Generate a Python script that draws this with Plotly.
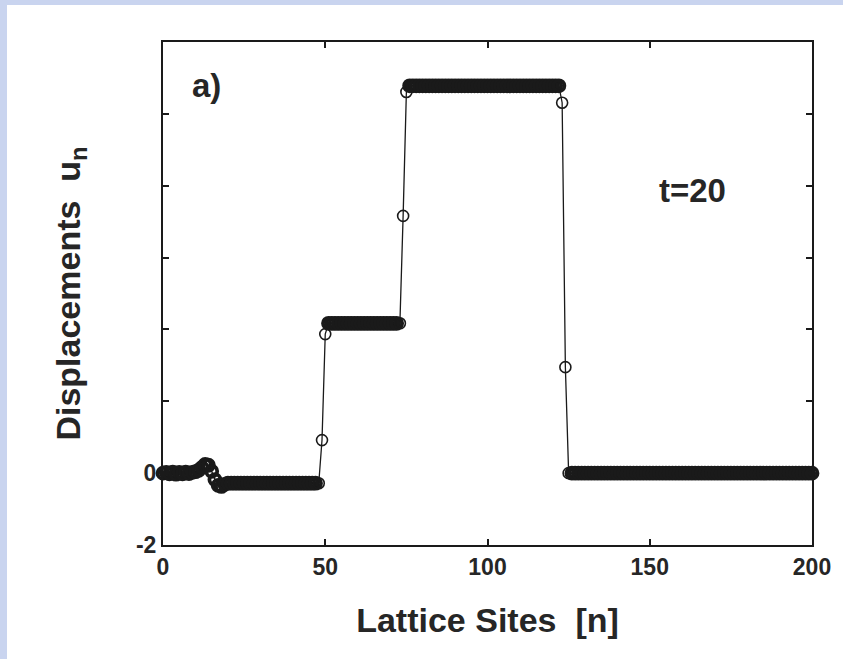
import plotly.graph_objects as go

# Lattice site index n = 0..200
sites = list(range(201))

# Displacements u_n (t = 20)
u_n = [
    0.00, 0.02, -0.02, 0.03, -0.03, 0.02, -0.02, 0.03, -0.01, 0.02,      # 0-9
    0.04, 0.08, 0.16, 0.24, 0.22, 0.05, -0.18, -0.34, -0.37, -0.31,      # 10-19
    -0.28, -0.28, -0.28, -0.28, -0.28, -0.28, -0.28, -0.28, -0.28, -0.28, # 20-29
    -0.28, -0.28, -0.28, -0.28, -0.28, -0.28, -0.28, -0.28, -0.28, -0.28, # 30-39
    -0.28, -0.28, -0.28, -0.28, -0.28, -0.28, -0.28, -0.28, -0.28, 0.92,  # 40-49
    3.87, 4.17, 4.17, 4.17, 4.17, 4.17, 4.17, 4.17, 4.17, 4.17,           # 50-59
    4.17, 4.17, 4.17, 4.17, 4.17, 4.17, 4.17, 4.17, 4.17, 4.17,           # 60-69
    4.17, 4.17, 4.17, 4.17, 7.16, 10.61, 10.78, 10.78, 10.78, 10.78,      # 70-79
    10.78, 10.78, 10.78, 10.78, 10.78, 10.78, 10.78, 10.78, 10.78, 10.78, # 80-89
    10.78, 10.78, 10.78, 10.78, 10.78, 10.78, 10.78, 10.78, 10.78, 10.78, # 90-99
    10.78, 10.78, 10.78, 10.78, 10.78, 10.78, 10.78, 10.78, 10.78, 10.78, # 100-109
    10.78, 10.78, 10.78, 10.78, 10.78, 10.78, 10.78, 10.78, 10.78, 10.78, # 110-119
    10.78, 10.78, 10.78, 10.31, 2.95, 0.00, 0.00, 0.00, 0.00, 0.00,       # 120-129
    0.00, 0.00, 0.00, 0.00, 0.00, 0.00, 0.00, 0.00, 0.00, 0.00,           # 130-139
    0.00, 0.00, 0.00, 0.00, 0.00, 0.00, 0.00, 0.00, 0.00, 0.00,           # 140-149
    0.00, 0.00, 0.00, 0.00, 0.00, 0.00, 0.00, 0.00, 0.00, 0.00,           # 150-159
    0.00, 0.00, 0.00, 0.00, 0.00, 0.00, 0.00, 0.00, 0.00, 0.00,           # 160-169
    0.00, 0.00, 0.00, 0.00, 0.00, 0.00, 0.00, 0.00, 0.00, 0.00,           # 170-179
    0.00, 0.00, 0.00, 0.00, 0.00, 0.00, 0.00, 0.00, 0.00, 0.00,           # 180-189
    0.00, 0.00, 0.00, 0.00, 0.00, 0.00, 0.00, 0.00, 0.00, 0.00,           # 190-199
    0.00,                                                                  # 200
]

x_ticks = [0, 50, 100, 150, 200]
y_labeled_ticks = [-2, 0]
y_unlabeled_ticks = [2, 4, 6, 8, 10, 12]

FONT = "Liberation Sans, Arial, sans-serif"
INK = "#1a1a1a"
TXT = "#262626"

# Densely packed sites merge into a solid band; isolated (jump) sites stay thin rings
ring_w = []
for i, v in enumerate(u_n):
    prev_d = abs(v - u_n[i - 1]) if i > 0 else 0.0
    next_d = abs(u_n[i + 1] - v) if i < len(u_n) - 1 else 0.0
    ring_w.append(1.6 if max(prev_d, next_d) > 0.6 else 3.8)

fig = go.Figure()
fig.add_trace(go.Scatter(
    x=sites, y=u_n, mode="lines+markers",
    line=dict(color=INK, width=1.3),
    marker=dict(symbol="circle-open", size=11, color=INK, line=dict(width=ring_w, color=INK)),
    cliponaxis=False, showlegend=False,
))

axis_common = dict(
    showgrid=False, zeroline=False, showline=True, linecolor=INK, linewidth=2,
    mirror="ticks", ticks="inside", ticklen=6, tickwidth=2, tickcolor=INK,
    tickfont=dict(family=FONT, size=23, color=TXT, weight="bold"),
)

fig.update_xaxes(range=[0, 200], tickvals=x_ticks, ticktext=[str(v) for v in x_ticks],
                 title=dict(text="Lattice Sites  [n]", standoff=30,
                            font=dict(family=FONT, size=34, color=TXT, weight="bold")),
                 **axis_common)
fig.update_yaxes(range=[-2, 12], tickvals=y_labeled_ticks, ticktext=[str(v) for v in y_labeled_ticks],
                 minor=dict(tickvals=y_unlabeled_ticks, ticks="inside", ticklen=6, tickwidth=2,
                            tickcolor=INK, showgrid=False),
                 title=dict(text="Displacements  u<sub>n</sub>", standoff=45,
                            font=dict(family=FONT, size=34, color=TXT, weight="bold")),
                 **axis_common)

L, R, T, B = 163, 31, 42, 114
W, H = 843, 659
pw, ph = W - L - R, H - T - B

def px(xp):
    return (xp - L) / pw

def py(yp):
    return (H - B - yp) / ph

fig.update_layout(
    width=W, height=H,
    margin=dict(l=L, r=R, t=T, b=B, pad=0, autoexpand=False),
    paper_bgcolor="#c9d4ef",
    plot_bgcolor="white",
    shapes=[dict(type="rect", xref="paper", yref="paper", layer="below",
                 x0=px(7), x1=px(W + 5), y0=py(H + 5), y1=py(5),
                 fillcolor="white", line=dict(width=0))],
    annotations=[
        dict(text="a)", xref="paper", yref="paper", x=px(206), y=py(85),
             showarrow=False, xanchor="center", yanchor="middle",
             font=dict(family=FONT, size=33, color=TXT, weight="bold")),
        dict(text="t=20", xref="paper", yref="paper", x=px(692), y=py(190),
             showarrow=False, xanchor="center", yanchor="middle",
             font=dict(family=FONT, size=33, color=TXT, weight="bold")),
    ],
)

fig.write_html("out.html")
